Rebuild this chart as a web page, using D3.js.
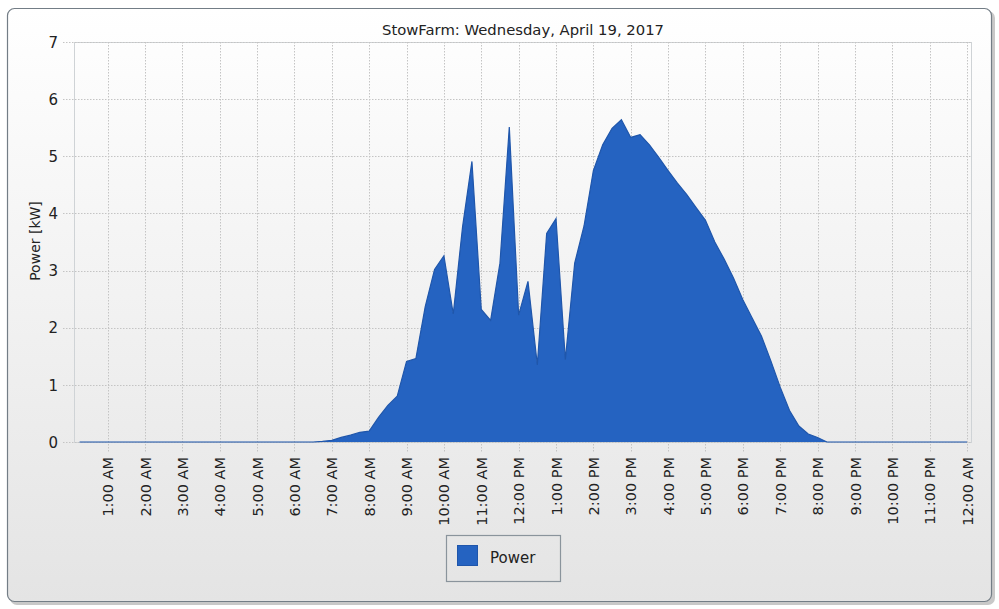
<!DOCTYPE html>
<html><head><meta charset="utf-8">
<script src="https://cdnjs.cloudflare.com/ajax/libs/d3/7.8.5/d3.min.js"></script>
<style>html,body{margin:0;padding:0;background:#fff;}svg{display:block;}</style>
</head><body>
<script>
const chartTitle = "StowFarm: Wednesday, April 19, 2017";
const yLabel = "Power [kW]";
const seriesName = "Power";
const firstSample = "2017-04-19 00:15"; // samples every 15 minutes
const sampleStepMinutes = 15;
// Power [kW] every 15 min, 00:15 .. 24:00
const powerValues = [
  0,0,0,0, 0,0,0,0, 0,0,0,0, 0,0,0,0,          // 00:15 - 04:00
  0,0,0,0, 0,0,0,0, 0,0,0.01,0.03,             // 04:15 - 07:00
  0.08,0.12,0.17,0.19,                          // 07:15 - 08:00
  0.43,0.64,0.80,1.41,                          // 08:15 - 09:00
  1.46,2.37,3.02,3.26,                          // 09:15 - 10:00
  2.24,3.77,4.91,2.32,                          // 10:15 - 11:00
  2.13,3.13,5.51,2.22,                          // 11:15 - 12:00
  2.81,1.35,3.65,3.91,                          // 12:15 - 13:00
  1.44,3.13,3.78,4.75,                          // 13:15 - 14:00
  5.20,5.49,5.64,5.33,                          // 14:15 - 15:00
  5.38,5.20,4.98,4.75,                          // 15:15 - 16:00
  4.53,4.33,4.10,3.88,                          // 16:15 - 17:00
  3.50,3.20,2.87,2.49,                          // 17:15 - 18:00
  2.17,1.85,1.42,0.96,                          // 18:15 - 19:00
  0.55,0.28,0.14,0.08,                          // 19:15 - 20:00
  0,0,0,0, 0,0,0,0, 0,0,0,0, 0,0,0,0           // 20:15 - 24:00
];
const yTicks = [0,1,2,3,4,5,6,7];
const domainStart = "2017-04-19 00:06";
const domainEnd = "2017-04-20 00:08";

const W = 999, H = 609;
const parse = d3.timeParse("%Y-%m-%d %H:%M");
const t0 = parse(firstSample);
const data = powerValues.map((v,i)=>({t: d3.timeMinute.offset(t0, i*sampleStepMinutes), v}));

const svg = d3.select("body").append("svg").attr("width",W).attr("height",H);
const defs = svg.append("defs");
const g1 = defs.append("linearGradient").attr("id","bg").attr("x1",0).attr("y1",0).attr("x2",0).attr("y2",1);
g1.append("stop").attr("offset","0%").attr("stop-color","#ffffff");
g1.append("stop").attr("offset","100%").attr("stop-color","#e4e4e4");

// shadow
svg.append("rect").attr("x",10).attr("y",11).attr("width",985).attr("height",594).attr("rx",7)
  .attr("fill","#c8c8c8");
// panel
svg.append("rect").attr("x",7.5).attr("y",8.5).attr("width",984).attr("height",593).attr("rx",7)
  .attr("fill","url(#bg)").attr("stroke","#737d86").attr("stroke-width",1.2);

const m = {l:74, t:42, r:972, b:442};
const x = d3.scaleTime().domain([parse(domainStart), parse(domainEnd)]).range([m.l, m.r]);
const y = d3.scaleLinear().domain([0,7]).range([m.b, m.t]);

const font = "Tahoma, 'DejaVu Sans', sans-serif";

// plot border
svg.append("rect").attr("x",m.l+0.5).attr("y",m.t+0.5).attr("width",m.r-m.l-1).attr("height",m.b-m.t)
  .attr("fill","none").attr("stroke","#cfd3d6").attr("stroke-width",1);

const xTicks = d3.timeHour.range(parse("2017-04-19 01:00"), parse("2017-04-20 00:30"));
// grid
const grid = svg.append("g").attr("stroke","#c4c4c4").attr("stroke-width",1).attr("stroke-dasharray","1.5,1.5");
grid.selectAll(".vx").data(xTicks).join("line")
  .attr("x1",d=>Math.round(x(d))+0.5).attr("x2",d=>Math.round(x(d))+0.5)
  .attr("y1",m.t).attr("y2",m.b+10);
grid.selectAll(".hy").data(yTicks).join("line")
  .attr("x1",m.l-11).attr("x2",m.r)
  .attr("y1",d=>Math.round(y(d))+0.5).attr("y2",d=>Math.round(y(d))+0.5);

// area
const area = d3.area().x(d=>x(d.t)).y0(y(0)).y1(d=>y(d.v));
const line = d3.line().x(d=>x(d.t)).y(d=>y(d.v));
svg.append("path").datum(data).attr("d",area).attr("fill","#2563c1");
svg.append("path").datum(data).attr("d",line).attr("fill","none").attr("stroke","#1f56ab").attr("stroke-width",1.2);

// y axis labels
const yAxis = d3.axisLeft(y).tickValues(yTicks).tickSize(0).tickPadding(0).tickFormat(d3.format("d"));
const ya = svg.append("g").attr("transform",`translate(58,0)`).call(yAxis);
ya.select(".domain").remove();
ya.selectAll("text").attr("font-family",font).attr("font-size",15).attr("fill","#222").attr("dy","0.35em").attr("text-anchor","end");

// x axis labels
const fmt = d3.timeFormat("%-I:%M %p");
const xAxis = d3.axisBottom(x).tickValues(xTicks).tickSize(0).tickPadding(0).tickFormat(fmt);
const xa = svg.append("g").attr("transform",`translate(0,${m.b})`).call(xAxis);
xa.select(".domain").remove();
xa.selectAll("text").attr("font-family",font).attr("font-size",14.5).attr("fill","#222")
  .attr("text-anchor","end").attr("transform","rotate(-90)").attr("x",-15).attr("y",0).attr("dy","0.35em");

// title
svg.append("text").attr("x",(m.l+m.r)/2).attr("y",35).attr("text-anchor","middle")
  .attr("font-family",font).attr("font-size",14.8).attr("fill","#222").text(chartTitle);
// y label
svg.append("text").attr("transform","translate(40,241) rotate(-90)").attr("text-anchor","middle")
  .attr("font-family",font).attr("font-size",14).attr("fill","#222").text(yLabel);

// legend
const lg = svg.append("g");
lg.append("rect").attr("x",446.5).attr("y",535.5).attr("width",114).attr("height",46)
  .attr("fill","none").attr("stroke","#8a949c").attr("stroke-width",1.2);
lg.append("rect").attr("x",457.5).attr("y",545.5).attr("width",20).attr("height",20)
  .attr("fill","#2563c1").attr("stroke","#1f56ab");
lg.append("text").attr("x",490).attr("y",563).attr("font-family",font).attr("font-size",15).attr("fill","#222").text(seriesName);
</script>
</body></html>
